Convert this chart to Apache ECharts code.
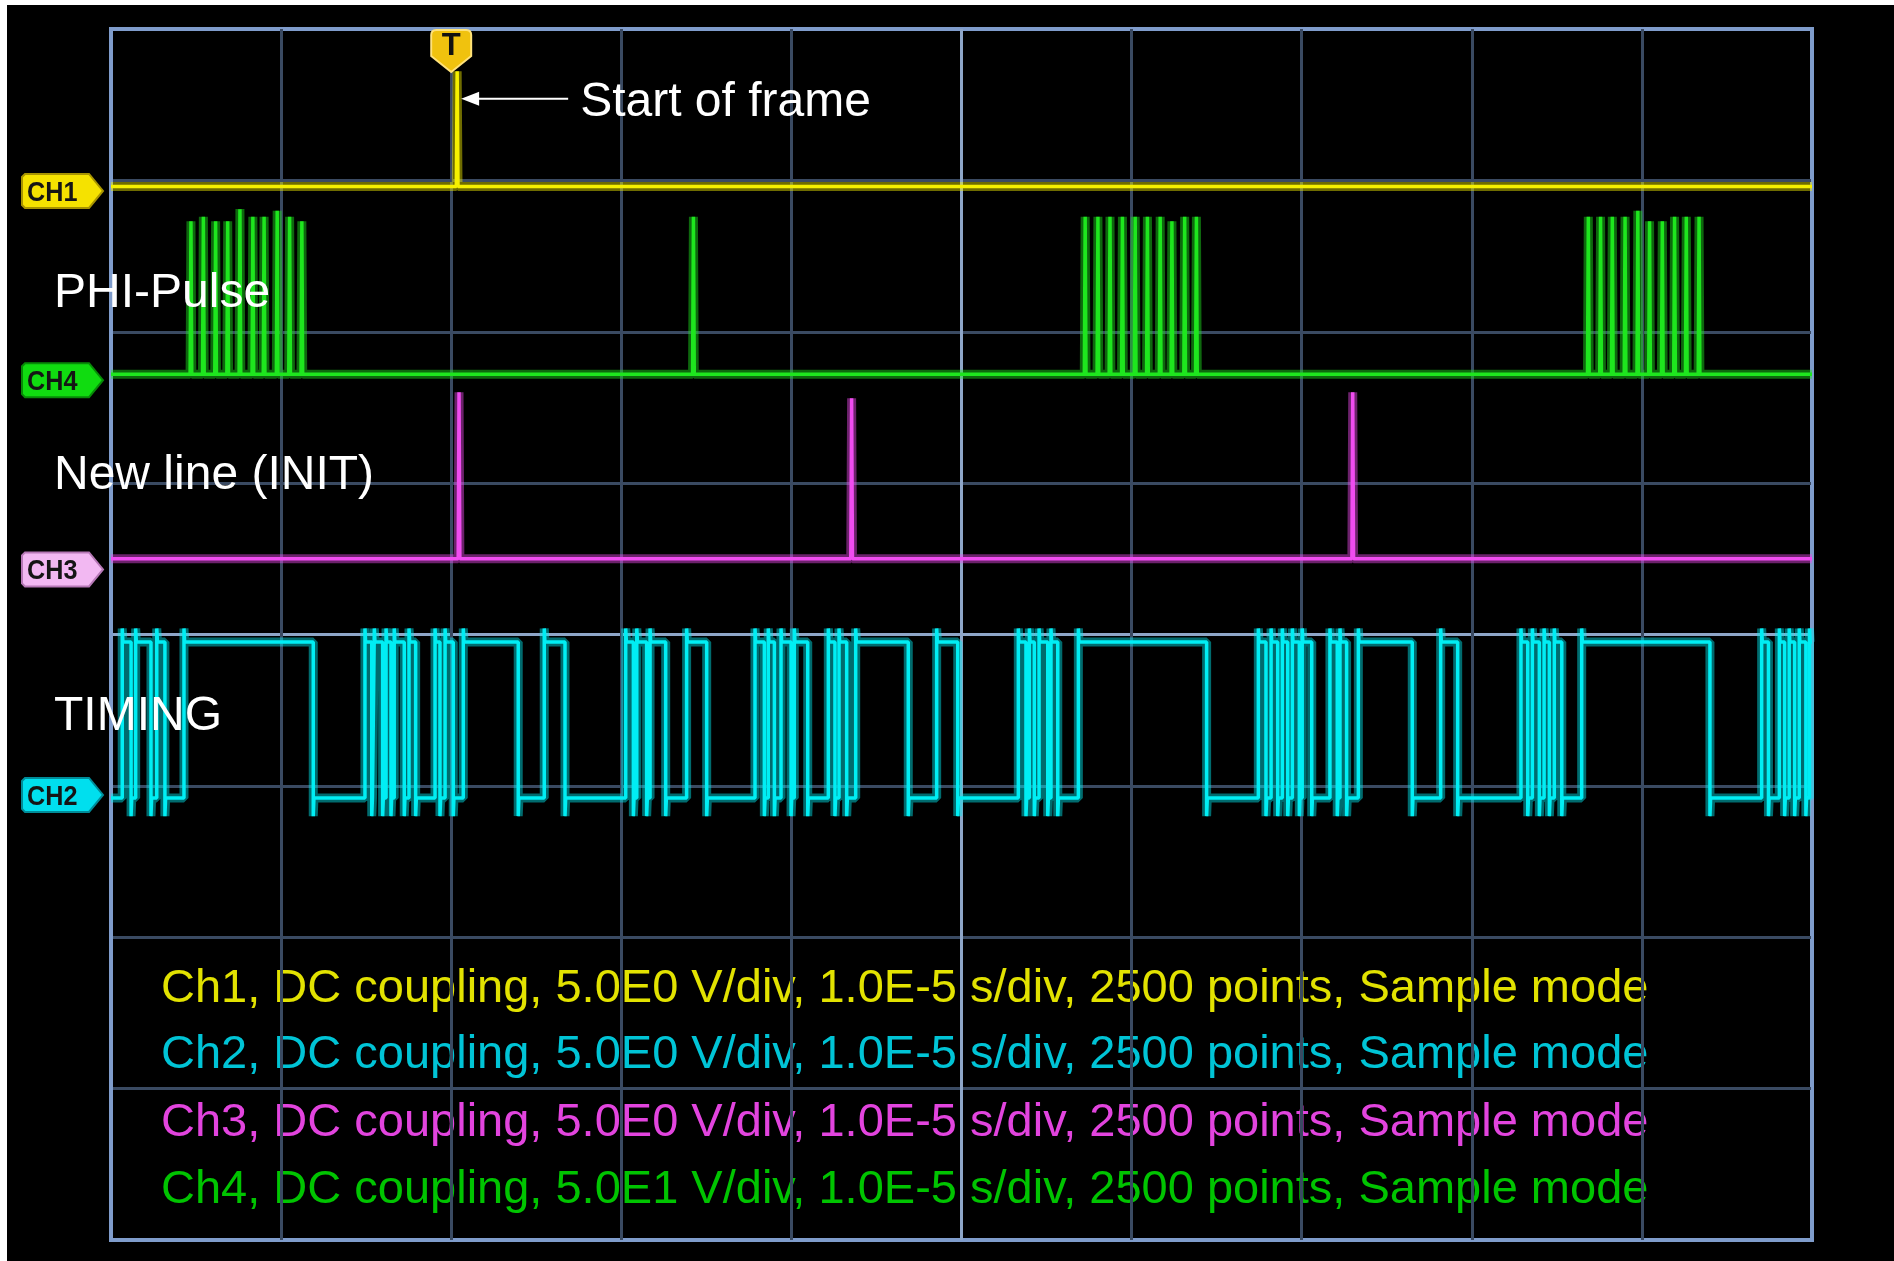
<!DOCTYPE html>
<html><head><meta charset="utf-8">
<script src="https://cdn.jsdelivr.net/npm/echarts@6/dist/echarts.min.js"></script>
<style>
html,body{margin:0;padding:0;background:#fff;width:1894px;height:1261px;overflow:hidden}
#c{position:absolute;left:7px;top:5px;width:1887px;height:1256px;background:#000}
</style></head><body><div id="c"></div>
<script>
// Horizontal: time in divisions (1.0E-5 s/div), 10 divisions. Vertical: divisions, -4..4.
const xTicks = [0, 1, 2, 3, 4, 5, 6, 7, 8, 9, 10];
const yTicks = [-4, -3, -2, -1, 0, 1, 2, 3, 4];

// CH1 (yellow) - start of frame
const ch1Level = 2.96;
const ch1SpikeTimes = [2.035];
const ch1SpikeTops = [3.72];
const triggerTime = 2.0;
const triggerMarkLevel = 3.855;

// CH4 (green) - PHI pulses
const ch4Level = 1.72;
const ch4PulseTimes = [0.47, 0.543, 0.615, 0.686, 0.758, 0.834, 0.9, 0.977, 1.05, 1.122,
  3.424,
  5.727, 5.802, 5.873, 5.946, 6.021, 6.093, 6.168, 6.237, 6.312, 6.381,
  8.685, 8.757, 8.826, 8.901, 8.976, 9.045, 9.12, 9.192, 9.261, 9.336];
const ch4PulseTops = [2.73, 2.76, 2.73, 2.73, 2.81, 2.76, 2.76, 2.8, 2.76, 2.73,
  2.76,
  2.76, 2.76, 2.76, 2.76, 2.76, 2.76, 2.76, 2.73, 2.76, 2.76,
  2.76, 2.76, 2.76, 2.76, 2.8, 2.73, 2.73, 2.76, 2.76, 2.76];

// CH3 (magenta) - new line (INIT)
const ch3Level = 0.5;
const ch3SpikeTimes = [2.046, 4.354, 7.30];
const ch3SpikeTops = [1.6, 1.56, 1.6];

// CH2 (cyan) - TIMING, high / low levels and the high intervals
const ch2High = -0.05;
const ch2Low = -1.08;
const ch2Overshoot = 0.04;
const ch2Undershoot = -1.2;
const ch2HighStarts = [0.066, 0.145, 0.269, 0.429, 1.493, 1.548, 1.617, 1.665, 1.752, 1.905, 1.964, 2.071,
  2.547, 3.026, 3.091, 3.169, 3.384, 3.786, 3.864, 3.939, 4.017, 4.217, 4.28, 4.378, 4.854,
  5.334, 5.399, 5.456, 5.526, 5.687, 6.745, 6.82, 6.886, 6.945, 7.003, 7.166, 7.225, 7.333, 7.817,
  8.289, 8.356, 8.425, 8.485, 8.646, 9.704, 9.808, 9.866, 9.925, 9.985];
const ch2HighEnds = [0.118, 0.235, 0.317, 1.189, 1.533, 1.597, 1.646, 1.724, 1.791, 1.934, 2.012, 2.394,
  2.669, 3.071, 3.149, 3.261, 3.502, 3.841, 3.9, 3.998, 4.096, 4.256, 4.325, 4.687, 4.978,
  5.379, 5.428, 5.507, 5.566, 6.441, 6.79, 6.859, 6.918, 6.986, 7.059, 7.209, 7.264, 7.65, 7.917,
  8.329, 8.397, 8.456, 8.529, 9.4, 9.744, 9.839, 9.898, 9.964, 10];

const channelNames = ['CH1', 'CH4', 'CH3', 'CH2'];
const channelRefLevels = [2.93, 1.68, 0.43, -1.06];
const channelColors = ['#f6f000', '#1ee61e', '#f04cf0', '#00eef4'];
const markerFills = ['#f5e200', '#10dc10', '#f2b8f2', '#00dfee'];
const markerStrokes = ['#a89400', '#078a07', '#b678b6', '#008c99'];

const traceLabels = ['PHI-Pulse', 'New line (INIT)', 'TIMING'];
const traceLabelY = [289, 471, 712];
const infoLines = [
  'Ch1, DC coupling, 5.0E0 V/div, 1.0E-5 s/div, 2500 points, Sample mode',
  'Ch2, DC coupling, 5.0E0 V/div, 1.0E-5 s/div, 2500 points, Sample mode',
  'Ch3, DC coupling, 5.0E0 V/div, 1.0E-5 s/div, 2500 points, Sample mode',
  'Ch4, DC coupling, 5.0E1 V/div, 1.0E-5 s/div, 2500 points, Sample mode'
];
const infoColors = ['#e2e200', '#00c4d6', '#e244de', '#00c400'];
const infoY = [984, 1050, 1118, 1185];

// ---- build traces ----
const pulseHalf = 0.005;
function spikeTrace(level, times, tops) {
  const pts = [[0, level]];
  times.forEach((t, i) => {
    pts.push([t - pulseHalf, level], [t, tops[i]], [t + pulseHalf, level]);
  });
  pts.push([10, level]);
  return pts;
}
function digitalTrace() {
  const pts = [[0, ch2Low]];
  ch2HighStarts.forEach((a, i) => {
    const b = ch2HighEnds[i];
    pts.push([a, ch2Low], [a, ch2Overshoot], [a + 0.004, ch2High], [b, ch2High]);
    if (b < 10) pts.push([b, ch2Undershoot], [b + 0.004, ch2Low]);
  });
  if (ch2HighEnds[ch2HighEnds.length - 1] < 10) pts.push([10, ch2Low]);
  return pts;
}
const traces = [
  spikeTrace(ch1Level, ch1SpikeTimes, ch1SpikeTops),
  spikeTrace(ch4Level, ch4PulseTimes, ch4PulseTops),
  spikeTrace(ch3Level, ch3SpikeTimes, ch3SpikeTops),
  digitalTrace()
];

const dim = '#3a4a62', center = '#8ea6c8', border = '#7f9ccb';
const xColors = xTicks.map(v => v === 5 ? center : (v === 0 || v === 10 ? border : dim));
const yColors = yTicks.map(v => v === 0 ? center : (v === -4 || v === 4 ? border : dim));

const series = [];
traces.forEach((d, i) => {
  series.push({
    type: 'line', data: d, showSymbol: false, symbol: 'none', silent: true, z: 3,
    lineStyle: { color: channelColors[i], width: 9, opacity: 0.45 }
  });
});
traces.forEach((d, i) => {
  const s = {
    type: 'line', data: d, showSymbol: false, symbol: 'none', silent: true, z: 4,
    lineStyle: { color: channelColors[i], width: 3.5 }
  };
  if (i === 0) {
    s.markPoint = {
      silent: true,
      data: [{ coord: [triggerTime, triggerMarkLevel] }],
      symbol: 'path://M5,0 H35 Q40,0 40,5 V26 L20,42 L0,26 V5 Q0,0 5,0 Z',
      symbolSize: [40, 42],
      itemStyle: { color: '#f0c20e', borderColor: '#ffe27a', borderWidth: 2 },
      label: { show: true, formatter: 'T', position: 'inside', offset: [0, -4],
        color: '#111', fontWeight: 'bold', fontSize: 31, fontFamily: 'Liberation Sans' }
    };
  }
  series.push(s);
});

const option = {
  backgroundColor: '#000',
  animation: false,
  grid: { left: 104, top: 24, right: 82, bottom: 21, show: true,
    borderColor: border, borderWidth: 4, backgroundColor: 'transparent', containLabel: false },
  xAxis: { type: 'value', min: 0, max: 10, interval: 1,
    axisLine: { show: false }, axisTick: { show: false }, axisLabel: { show: false },
    splitLine: { show: true, lineStyle: { color: xColors, width: 3 } } },
  yAxis: { type: 'value', min: -4, max: 4, interval: 1,
    axisLine: { show: false }, axisTick: { show: false }, axisLabel: { show: false },
    splitLine: { show: true, lineStyle: { color: yColors, width: 3 } } },
  series: series
};

const chart = echarts.init(document.getElementById('c'), null, { renderer: 'canvas' });
chart.setOption(option);

const px = (x, y) => chart.convertToPixel({ gridIndex: 0 }, [x, y]);
const elements = [];

// channel reference markers
channelNames.forEach((n, i) => {
  const y = px(0, channelRefLevels[i])[1];
  const l = 15, r = 96, h = 17;
  elements.push({
    type: 'polygon', z: 50,
    shape: { points: [[l, y - h + 3], [l + 3, y - h], [r - 14, y - h], [r, y], [r - 14, y + h], [l + 3, y + h], [l, y + h - 3]] },
    style: { fill: markerFills[i], stroke: markerStrokes[i], lineWidth: 2 }
  });
  elements.push({
    type: 'text', z: 51, x: l + 5, y: y + 2, scaleX: 0.9,
    style: { text: n, fill: '#151515', font: 'bold 28px "Liberation Sans"', verticalAlign: 'middle', align: 'left' }
  });
});

// start of frame annotation
const tip = px(ch1SpikeTimes[0], 3.54);
const tipX = tip[0] + 4, ay = tip[1];
elements.push({ type: 'line', z: 60, shape: { x1: tipX + 12, y1: ay, x2: tipX + 107, y2: ay },
  style: { stroke: '#fff', lineWidth: 2 } });
elements.push({ type: 'polygon', z: 60, shape: { points: [[tipX, ay], [tipX + 18, ay - 7], [tipX + 18, ay + 7]] },
  style: { fill: '#fff' } });
elements.push({ type: 'text', z: 60, x: tipX + 119, y: ay + 4,
  style: { text: 'Start of frame', fill: '#fff', font: '48px "Liberation Sans"', verticalAlign: 'middle', align: 'left' } });

traceLabels.forEach((t, i) => {
  elements.push({ type: 'text', z: 60, x: 47, y: traceLabelY[i],
    style: { text: t, fill: '#fff', font: '48px "Liberation Sans"', verticalAlign: 'middle', align: 'left' } });
});
infoLines.forEach((t, i) => {
  elements.push({ type: 'text', z: -1, x: 154, y: infoY[i],
    style: { text: t, fill: infoColors[i], font: '47px "Liberation Sans"', verticalAlign: 'middle', align: 'left' } });
});

chart.setOption({ graphic: { elements: elements } });
</script></body></html>
